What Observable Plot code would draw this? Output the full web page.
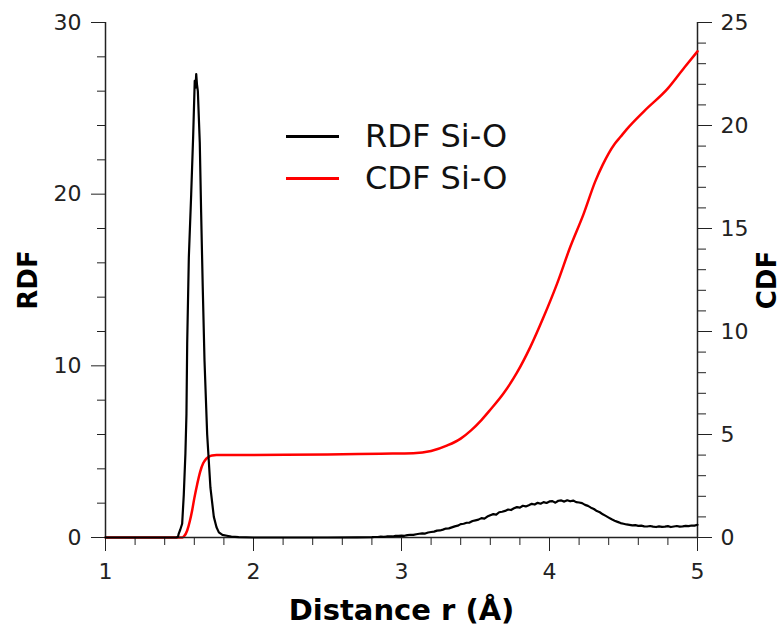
<!DOCTYPE html>
<html><head><meta charset="utf-8">
<script src="https://cdn.jsdelivr.net/npm/d3@7"></script>
<script src="https://cdn.jsdelivr.net/npm/@observablehq/plot@0.6"></script>
<style>
body{margin:0;background:#fff;}
#wrap{position:relative;width:782px;height:628px;font-family:"DejaVu Sans",sans-serif;overflow:hidden;}
#wrap > svg{position:absolute;left:0;top:0;}
#legend{position:absolute;left:286px;top:115px;font-family:"DejaVu Sans",sans-serif;font-size:32px;color:#111;}
.row{display:flex;align-items:center;height:42px;}
.sw{width:53px;height:0;border-top:3px solid;margin-right:26px;}
</style></head><body><div id="wrap"><div id="legend"></div></div>
<script>
// RDF Si-O : distance r (Å) and g(r)
const rdfR = [1.00,1.48,1.49,1.495,1.505,1.518,1.529,1.540,1.547,1.552,1.563,1.579,1.592,1.603,1.608,1.613,1.618,1.624,1.637,1.646,1.657,1.669,1.687,1.709,1.732,1.750,1.766,1.790,1.820,1.850,1.900,2.00,2.50,2.70,
2.80,2.82,2.84,2.86,2.88,2.90,2.92,2.94,2.96,2.98,3.00,3.02,3.04,3.06,3.08,3.10,3.12,3.14,3.16,3.18,3.20,3.22,3.24,3.26,3.28,3.30,3.32,3.34,3.36,3.38,3.40,3.42,3.44,3.46,3.48,3.50,3.52,3.54,3.56,3.58,3.60,3.62,3.64,3.66,3.68,3.70,3.72,3.74,3.76,3.78,3.80,3.82,3.84,3.86,3.88,3.90,3.92,3.94,3.96,3.98,4.00,4.02,4.04,4.06,4.08,4.10,4.12,4.14,4.16,4.18,4.20,4.22,4.24,4.26,4.28,4.30,4.32,4.34,4.36,4.38,4.40,4.42,4.44,4.46,4.48,4.50,4.52,4.54,4.56,4.58,4.60,4.62,4.64,4.66,4.68,4.70,4.72,4.74,4.76,4.78,4.80,4.82,4.84,4.86,4.88,4.90,4.92,4.94,4.96,4.98,5.00];
const rdfG = [0,0,0.05,0.23,0.45,0.8,2.5,4.9,7.2,11.3,16.3,20.0,23.3,26.6,26.2,27.0,26.4,26.0,23.0,19.0,14.6,10.3,6.0,2.9,1.2,0.6,0.3,0.15,0.1,0.05,0.02,0,0,0.01,
0.02,0.03,0.03,0.05,0.04,0.06,0.07,0.06,0.09,0.10,0.11,0.10,0.14,0.16,0.15,0.19,0.22,0.24,0.23,0.29,0.32,0.34,0.40,0.41,0.46,0.52,0.53,0.59,0.65,0.69,
0.78,0.80,0.86,0.87,0.96,1.00,1.04,1.13,1.10,1.22,1.30,1.36,1.33,1.47,1.50,1.55,1.63,1.60,1.70,1.77,1.74,1.85,1.81,1.88,1.96,1.92,2.02,1.97,2.06,2.01,2.10,2.12,2.03,2.14,2.16,2.09,2.17,2.11,2.15,2.06,2.04,2.00,1.90,1.84,1.74,1.66,1.54,1.47,1.35,1.26,1.16,
1.06,0.98,0.91,0.84,0.80,0.76,0.74,0.71,0.72,0.68,0.69,0.65,0.64,0.67,0.63,0.61,0.65,0.62,0.63,0.66,0.61,0.64,0.67,0.63,0.65,0.68,0.66,0.70,0.69,0.74];
// CDF Si-O : distance r (Å) and coordination number
const cdfR = [1.00,1.52,1.53,1.552,1.570,1.585,1.600,1.620,1.640,1.660,1.680,1.700,1.720,1.750,2.00,2.50,2.86,3.08,3.20,3.31,3.40,3.47,3.54,3.60,3.69,3.78,3.87,3.96,4.05,4.14,4.23,4.31,4.36,4.40,4.44,4.48,4.52,4.64,4.80,4.91,5.00];
const cdfN = [0,0,0.05,0.34,0.8,1.3,1.9,2.6,3.2,3.6,3.82,3.93,3.98,4.0,4.01,4.03,4.07,4.09,4.2,4.47,4.8,5.2,5.7,6.2,7.0,8.0,9.24,10.7,12.3,14.1,15.7,17.3,18.1,18.65,19.1,19.45,19.8,20.7,21.8,22.8,23.6];
// ticks and labels
const xTicks = [1,2,3,4,5];
const xMinor = [1.2,1.4,1.6,1.8,2.2,2.4,2.6,2.8,3.2,3.4,3.6,3.8,4.2,4.4,4.6,4.8];
const yRdfTicks = [0,10,20,30];
const yRdfMinor = [2,4,6,8,12,14,16,18,22,24,26,28];
const yCdfTicks = [0,5,10,15,20,25];
const yCdfMinor = [1,2,3,4,6,7,8,9,11,12,13,14,16,17,18,19,21,22,23,24];
const xTitle = "Distance r (Å)";
const yRdfTitle = "RDF";
const yCdfTitle = "CDF";
const seriesNames = ["RDF Si-O","CDF Si-O"];
const seriesColors = ["#000000","#ff0000"];

const rdf = rdfR.map((r,i)=>({r, g: rdfG[i]}));
const cdf = cdfR.map((r,i)=>({r, n: cdfN[i]}));

const common = {
  width: 782, height: 628,
  marginLeft: 105, marginRight: 85, marginTop: 22, marginBottom: 91,
  style: {fontFamily: "DejaVu Sans, sans-serif", fontSize: "22px", color: "#222", background: "transparent", overflow: "visible"}
};

const plotCdf = Plot.plot({
  ...common,
  x: {domain: [1,5], axis: null},
  y: {domain: [0,25]},
  marks: [
    Plot.axisY({anchor: "right", ticks: yCdfTicks, tickSize: 14, tickPadding: 9, label: null, stroke: "#222"}),
    Plot.axisY({anchor: "right", ticks: yCdfMinor, tickSize: 8, tickFormat: () => "", label: null, stroke: "#222"}),
    Plot.ruleX([5], {stroke: "#222", strokeWidth: 1.5}),
    Plot.line(cdf, {x: "r", y: "n", stroke: seriesColors[1], strokeWidth: 2.5, curve: "monotone-x"}),
    Plot.text([yCdfTitle], {frameAnchor: "right", textAnchor: "middle", lineAnchor: "middle", dx: 70, rotate: -90, fontWeight: "bold", fontSize: 26, fill: "#000"})
  ]
});

const plotRdf = Plot.plot({
  ...common,
  x: {domain: [1,5]},
  y: {domain: [0,30]},
  marks: [
    Plot.axisX({ticks: xTicks, tickSize: 14, tickPadding: 12, label: null, tickFormat: d => String(d), stroke: "#222"}),
    Plot.axisX({ticks: xMinor, tickSize: 8, tickFormat: () => "", label: null, stroke: "#222"}),
    Plot.axisY({ticks: yRdfTicks, tickSize: 14, tickPadding: 10, label: null, stroke: "#222"}),
    Plot.axisY({ticks: yRdfMinor, tickSize: 8, tickFormat: () => "", label: null, stroke: "#222"}),
    Plot.ruleX([1], {stroke: "#222", strokeWidth: 1.5}),
    Plot.ruleY([0], {stroke: "#222", strokeWidth: 1.5}),
    Plot.line(rdf, {x: "r", y: "g", stroke: seriesColors[0], strokeWidth: 2.2}),
    Plot.text([xTitle], {frameAnchor: "bottom", textAnchor: "middle", lineAnchor: "middle", dy: 73, fontWeight: "bold", fontSize: 29, fill: "#000"}),
    Plot.text([yRdfTitle], {frameAnchor: "left", textAnchor: "middle", lineAnchor: "middle", dx: -77, rotate: -90, fontWeight: "bold", fontSize: 26, fill: "#000"})
  ]
});

const wrap = document.getElementById("wrap");
wrap.insertBefore(plotCdf, wrap.firstChild);
wrap.insertBefore(plotRdf, document.getElementById("legend"));

const legend = document.getElementById("legend");
seriesNames.forEach((name, i) => {
  const row = document.createElement("div");
  row.className = "row";
  const sw = document.createElement("span");
  sw.className = "sw";
  sw.style.borderTopColor = seriesColors[i];
  const t = document.createElement("span");
  t.textContent = name;
  row.appendChild(sw); row.appendChild(t);
  legend.appendChild(row);
});
</script>
</body></html>
